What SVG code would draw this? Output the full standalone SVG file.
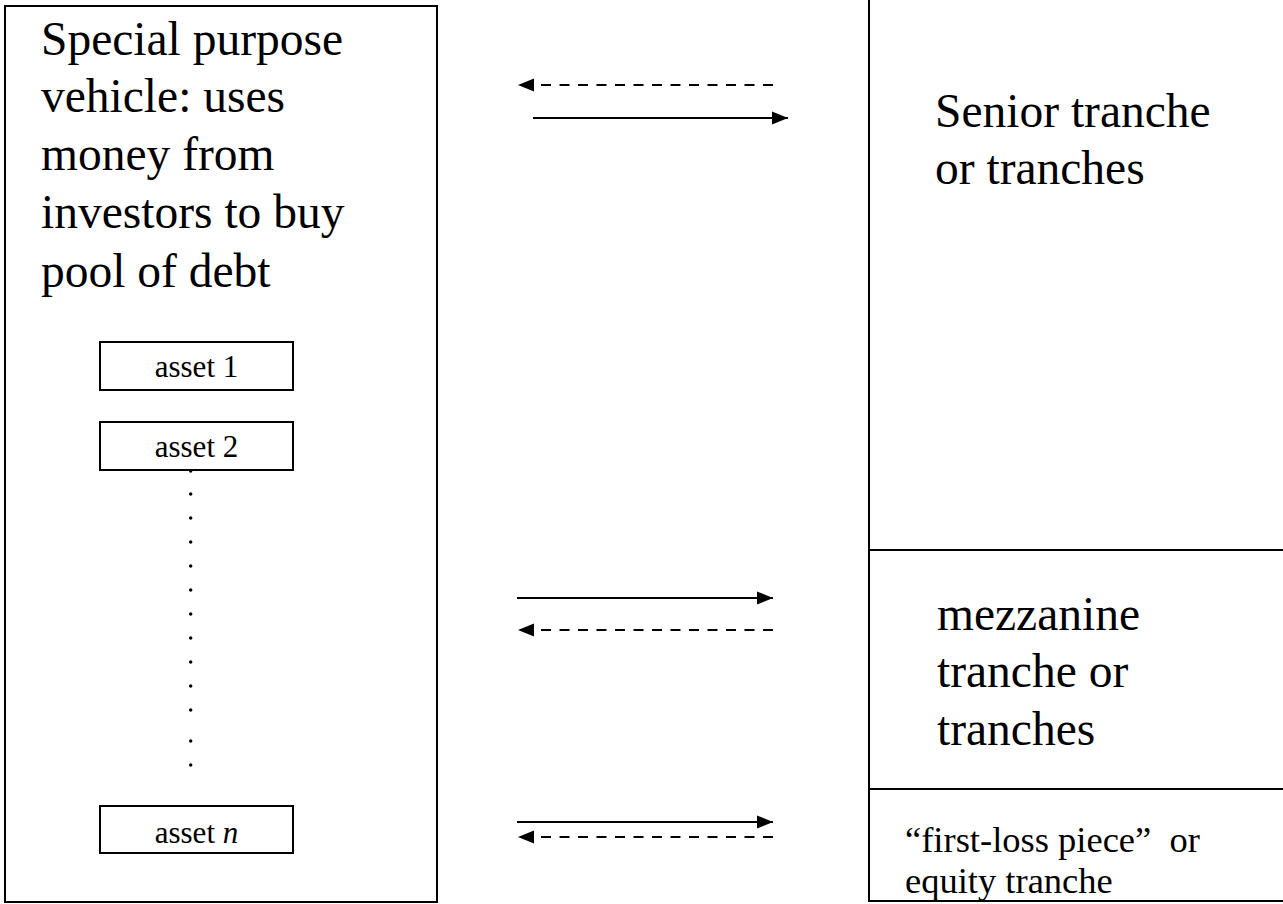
<svg xmlns="http://www.w3.org/2000/svg" width="1283" height="904" viewBox="0 0 1283 904">
  <style>
    .box { fill: #ffffff; stroke: #000000; stroke-width: 2; }
    .big { font-family: "Liberation Serif", "Times New Roman", serif; font-size: 47.5px; fill: #000000; }
    .mid { font-family: "Liberation Serif", "Times New Roman", serif; font-size: 36.5px; fill: #000000; white-space: pre; }
    .small { font-family: "Liberation Serif", "Times New Roman", serif; font-size: 31px; fill: #000000; text-anchor: middle; }
    .solid { stroke: #000000; stroke-width: 2.2; fill: none; }
    .dashed { stroke: #000000; stroke-width: 2.2; fill: none; stroke-dasharray: 10 8.5; }
    .dot { fill: #000000; }
  </style>
  <defs>
    <marker id="head" markerUnits="userSpaceOnUse" markerWidth="17" markerHeight="14" refX="16" refY="7" orient="auto">
      <path d="M0,0.5 L16,7 L0,13.5 Z" fill="#000000"/>
    </marker>
  </defs>
  <rect width="1283" height="904" fill="#ffffff"/>

  <g id="spv">
    <rect class="box" x="5" y="6" width="432" height="896"/>
    <text class="big" x="41" y="55">Special purpose</text>
    <text class="big" x="41" y="112">vehicle: uses</text>
    <text class="big" x="41" y="170">money from</text>
    <text class="big" x="41" y="228">investors to buy</text>
    <text class="big" x="41" y="287">pool of debt</text>
  </g>

  <g id="asset1">
    <rect class="box" x="100" y="342" width="193" height="48"/>
    <text class="small" x="196.5" y="377">asset 1</text>
  </g>

  <g id="asset2">
    <rect class="box" x="100" y="422" width="193" height="48"/>
    <text class="small" x="196.5" y="457">asset 2</text>
  </g>

  <g id="asset-dots">
    <circle class="dot" cx="190.7" cy="471" r="1.7"/>
    <circle class="dot" cx="190.7" cy="494" r="1.7"/>
    <circle class="dot" cx="190.7" cy="518" r="1.7"/>
    <circle class="dot" cx="190.7" cy="542" r="1.7"/>
    <circle class="dot" cx="190.7" cy="566" r="1.7"/>
    <circle class="dot" cx="190.7" cy="590" r="1.7"/>
    <circle class="dot" cx="190.7" cy="614" r="1.7"/>
    <circle class="dot" cx="190.7" cy="638" r="1.7"/>
    <circle class="dot" cx="190.7" cy="662" r="1.7"/>
    <circle class="dot" cx="190.7" cy="686" r="1.7"/>
    <circle class="dot" cx="190.7" cy="710" r="1.7"/>
    <circle class="dot" cx="190.7" cy="741" r="1.7"/>
    <circle class="dot" cx="190.7" cy="765" r="1.7"/>
  </g>

  <g id="assetn">
    <rect class="box" x="100" y="806" width="193" height="47"/>
    <text class="small" x="196.5" y="843">asset <tspan font-style="italic">n</tspan></text>
  </g>

  <g id="senior">
    <rect class="box" x="869" y="-10" width="430" height="560"/>
    <text class="big" x="935" y="127">Senior tranche</text>
    <text class="big" x="935" y="184">or tranches</text>
  </g>

  <g id="mezzanine">
    <rect class="box" x="869" y="550" width="430" height="239"/>
    <text class="big" x="937" y="630">mezzanine</text>
    <text class="big" x="937" y="687">tranche or</text>
    <text class="big" x="937" y="745">tranches</text>
  </g>

  <g id="equity">
    <rect class="box" x="869" y="789" width="430" height="112"/>
    <text class="mid" x="905" y="852">“first-loss piece”  or</text>
    <text class="mid" x="905" y="893">equity tranche</text>
  </g>

  <g id="connectors">
    <line class="dashed" x1="773" y1="85" x2="518" y2="85" marker-end="url(#head)"/>
    <line class="solid" x1="533" y1="118" x2="788" y2="118" marker-end="url(#head)"/>
    <line class="solid" x1="517" y1="598" x2="773" y2="598" marker-end="url(#head)"/>
    <line class="dashed" x1="773" y1="630" x2="518" y2="630" marker-end="url(#head)"/>
    <line class="solid" x1="517" y1="822" x2="773" y2="822" marker-end="url(#head)"/>
    <line class="dashed" x1="773" y1="837" x2="518" y2="837" marker-end="url(#head)"/>
  </g>
</svg>
